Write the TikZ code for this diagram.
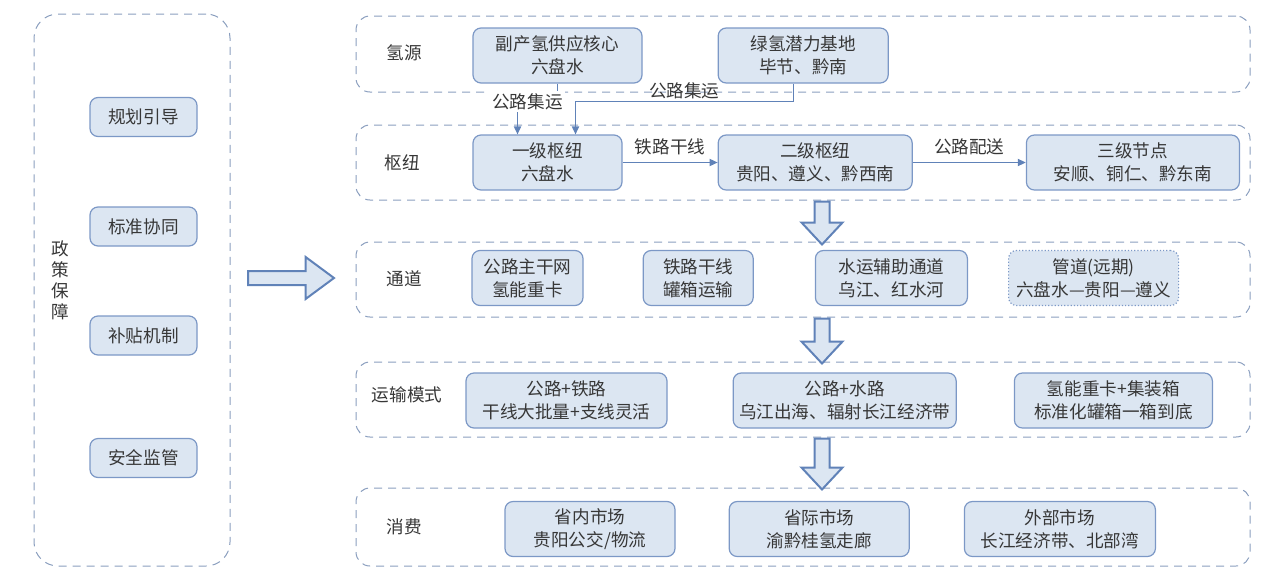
\documentclass[tikz,border=0pt]{standalone}
\usepackage{fontspec}
\setmainfont{Noto Sans CJK SC}
\usetikzlibrary{positioning, arrows.meta, shapes.arrows}

\definecolor{boxfill}{RGB}{220,230,242}
\definecolor{boxline}{RGB}{124,152,198}
\definecolor{panelline}{RGB}{138,158,190}
\definecolor{flowline}{RGB}{96,130,184}
\definecolor{txt}{RGB}{55,55,55}

\begin{document}
\begin{tikzpicture}[
    x=0.5pt, y=-0.5pt,
    font=\fontsize{8.8}{11.5}\selectfont,
    text=txt,
    box/.style={
        rectangle,
        rounded corners=4pt,
        draw=boxline,
        fill=boxfill,
        line width=0.6pt,
        minimum height=27.5pt,
        inner sep=1pt,
        align=center
    },
    sidebox/.style={box, minimum width=53.5pt, minimum height=19.5pt},
    panel/.style={
        rectangle,
        rounded corners=7pt,
        draw=panelline,
        line width=0.5pt,
        dash pattern=on 4pt off 3pt,
        minimum width=447pt
    },
    rowlabel/.style={inner sep=1pt},
    flow/.style={-{Triangle[length=4pt, width=3.6pt]}, draw=flowline, line width=0.6pt},
    flowlabel/.style={inner sep=1pt},
    bigarrow/.style={
        single arrow,
        draw=flowline,
        fill=boxfill,
        line width=1pt,
        inner sep=3.25pt,
        single arrow head extend=6.5pt,
        single arrow tip angle=86,
        single arrow head indent=0pt,
        anchor=tail,
        rotate=-90
    }
]
\useasboundingbox (0,0) rectangle (1269,579);

% --- Rahmen ---
\node[panel, minimum width=98pt, minimum height=276pt, rounded corners=12pt] (pPolicy) at (132,290) {};
\node[panel, minimum height=38pt] (pSource) at (803,54) {};
\node[panel, minimum height=37.5pt] (pHub) at (803,162.5) {};
\node[panel, minimum height=37.5pt] (pChannel) at (803,279.5) {};
\node[panel, minimum height=37.5pt] (pMode) at (803,399.5) {};
\node[panel, minimum height=39pt] (pUse) at (803,527) {};

% --- Politik ---
\node[align=center, font=\fontsize{8.8}{10.5}\selectfont] (policy) at (60,280) {政\\策\\保\\障};
\node[sidebox] (plan) at (143.5,117) {规划引导};
\node[sidebox] (norm) at (143.5,226.5) {标准协同};
\node[sidebox] (subsidy) at (143.5,335.5) {补贴机制};
\node[sidebox] (safety) at (143.5,458) {安全监管};

\node[bigarrow, rotate=90, inner sep=3pt, single arrow head extend=7pt,
      single arrow tip angle=73, minimum height=43pt] (toright) at (247,278) {};

% --- Zeilentitel ---
\node[rowlabel] (lSource) at (404,53) {氢源};
\node[rowlabel] (lHub) at (402,163) {枢纽};
\node[rowlabel] (lChannel) at (404,279) {通道};
\node[rowlabel] (lMode) at (407,395) {运输模式};
\node[rowlabel] (lUse) at (404,527) {消费};

% --- Wasserstoffquellen ---
\node[box, minimum width=84.5pt] (src1) at (557.5,55.5) {副产氢供应核心\\六盘水};
\node[box, minimum width=85pt, right=37.5pt of src1] (src2) {绿氢潜力基地\\毕节、黔南};

% --- Knoten ---
\node[box, minimum width=74.5pt] (hub1) at (547.5,162.5) {一级枢纽\\六盘水};
\node[box, minimum width=97pt, right=47.5pt of hub1] (hub2) {二级枢纽\\贵阳、遵义、黔西南};
\node[box, minimum width=106.5pt, right=56.5pt of hub2] (hub3) {三级节点\\安顺、铜仁、黔东南};

% --- Kanaele ---
\node[box, minimum width=55.5pt] (ch1) at (527.5,278) {公路主干网\\氢能重卡};
\node[box, minimum width=55pt, right=29.5pt of ch1] (ch2) {铁路干线\\罐箱运输};
\node[box, minimum width=76pt, right=30.5pt of ch2] (ch3) {水运辅助通道\\乌江、红水河};
\node[box, minimum width=85pt, right=20pt of ch3, densely dotted] (ch4) {管道(远期)\\六盘水—贵阳—遵义};

% --- Modi ---
\node[box, minimum width=100.5pt] (md1) at (566.5,400.5) {公路+铁路\\干线大批量+支线灵活};
\node[box, minimum width=111.5pt, right=32.5pt of md1] (md2) {公路+水路\\乌江出海、辐射长江经济带};
\node[box, minimum width=99pt, right=28.5pt of md2] (md3) {氢能重卡+集装箱\\标准化罐箱一箱到底};

% --- Maerkte ---
\node[box, minimum width=85pt] (cs1) at (590,529) {省内市场\\贵阳公交/物流};
\node[box, minimum width=90pt, right=26.5pt of cs1] (cs2) {省际市场\\渝黔桂氢走廊};
\node[box, minimum width=95.5pt, right=27pt of cs2] (cs3) {外部市场\\长江经济带、北部湾};

% --- Pfeile ---
\draw[flow] (src1.south) -- ++(0,18) -| ([xshift=-15pt]hub1.north)
    node[flowlabel, pos=0.375, fill=white] {公路集运};
\draw[flow] ([xshift=-5pt]src2.south) -- ++(0,18) -| ([xshift=14pt]hub1.north)
    node[flowlabel, pos=0.25, above=0pt] {公路集运};
\draw[flow] (hub1) -- (hub2) node[midway, above] {铁路干线};
\draw[flow] (hub2) -- (hub3) node[midway, above] {公路配送};

\node[bigarrow, minimum height=21.5pt] (down1) at ([xshift=9.5pt]pHub.south) {};
\node[bigarrow, minimum height=22.5pt] (down2) at ([xshift=9.5pt]pChannel.south) {};
\node[bigarrow, minimum height=25.5pt] (down3) at ([xshift=9.5pt]pMode.south) {};

\end{tikzpicture}
\end{document}
